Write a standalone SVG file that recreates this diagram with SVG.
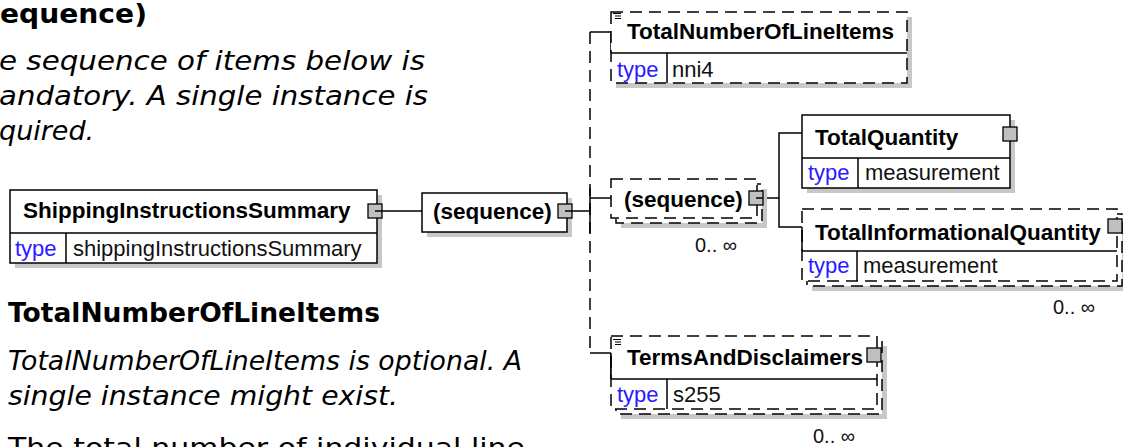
<svg xmlns="http://www.w3.org/2000/svg" width="1123" height="447" viewBox="0 0 1123 447">
<style>
.bg{fill:#fff}
.box{fill:#fff;stroke:#000;stroke-width:1.5}
.dash{stroke-dasharray:12 7}
.sh{fill:#c8c8c8}
.ln{stroke:#000;stroke-width:1.5;fill:none}
.sq{fill:#c0c0c0;stroke:#000;stroke-width:1.3}
.t{font-family:"Liberation Sans",Arial,sans-serif;font-size:22px;fill:#111}
.tb{font-family:"Liberation Sans",Arial,sans-serif;font-size:22.5px;font-weight:bold;fill:#000}
.ty{fill:#2a1aff}
.m{font-family:"Liberation Sans",Arial,sans-serif;font-size:20px;fill:#111}
.body{font-family:"DejaVu Sans",Verdana,sans-serif;font-size:27px;fill:#000}
.bb{font-weight:bold}
.it{font-style:italic}
.doc{stroke:#000;stroke-width:1.2}
</style>
<rect class="bg" x="0" y="0" width="1123" height="447"/>
<g id="text">
<text class="body bb" x="0" y="23" textLength="147" lengthAdjust="spacingAndGlyphs">equence)</text>
<text class="body it" x="-1" y="70" textLength="426" lengthAdjust="spacingAndGlyphs">e sequence of items below is</text>
<text class="body it" x="-1" y="105" textLength="429" lengthAdjust="spacingAndGlyphs">andatory. A single instance is</text>
<text class="body it" x="-1" y="140">quired.</text>
<text class="body bb" x="8" y="322" textLength="372" lengthAdjust="spacingAndGlyphs">TotalNumberOfLineItems</text>
<text class="body it" x="8" y="370" textLength="514" lengthAdjust="spacingAndGlyphs">TotalNumberOfLineItems is optional. A</text>
<text class="body it" x="8" y="405" textLength="390" lengthAdjust="spacingAndGlyphs">single instance might exist.</text>
<text class="body" x="8" y="457" textLength="517" lengthAdjust="spacingAndGlyphs">The total number of individual line</text>
</g>
<g id="connectors">
<path class="ln" d="M375,211 H422"/>
<path class="ln" d="M565,211 H590"/>
<path class="ln dash" d="M590,32 V353"/>
<path class="ln" d="M590,188 V233"/>
<path class="ln" d="M590,32 H611 V53"/>
<path class="ln" d="M590,198 H611"/>
<path class="ln" d="M590,353 H611 V379"/>
<path class="ln" d="M756,198 H779"/>
<path class="ln" d="M802,133 H779 V227 H802"/>
</g>
<g id="ShippingInstructionsSummary">
<rect class="sh" x="15" y="195" width="367" height="73"/>
<rect class="box" x="10" y="190" width="367" height="73"/>
<path class="ln" d="M10,233 H377 M66,233 V263"/>
<rect class="sq" x="368" y="204" width="14" height="14"/>
<path class="ln" d="M375,211 H382"/>
<text class="tb" x="23" y="218">ShippingInstructionsSummary</text>
<text class="t ty" x="15" y="256">type</text>
<text class="t" x="73" y="256">shippingInstructionsSummary</text>
</g>
<g id="sequence">
<rect class="sh" x="427" y="198" width="145" height="39"/>
<rect class="box" x="422" y="193" width="145" height="39"/>
<rect class="sq" x="558" y="204" width="14" height="14"/>
<path class="ln" d="M565,211 H572"/>
<text class="tb" x="433" y="219">(sequence)</text>
</g>
<g id="TotalNumberOfLineItems">
<rect class="sh" x="616" y="17" width="296" height="71"/>
<rect class="box dash" x="611" y="12" width="296" height="71"/>
<path class="ln" d="M611,53 H907 M667,53 V83"/>
<path class="doc" d="M613,13.5 H621 M615,16 H621 M615,18.5 H621"/>
<text class="tb" x="627" y="39">TotalNumberOfLineItems</text>
<text class="t ty" x="617" y="77">type</text>
<text class="t" x="672" y="77">nni4</text>
</g>
<g id="sequence2">
<rect class="sh" x="621" y="189" width="146" height="39"/>
<rect class="box dash" x="616" y="184" width="146" height="39"/>
<rect class="box dash" x="611" y="179" width="146" height="39"/>
<rect class="sq" x="749" y="191" width="14" height="14"/>
<path class="ln" d="M756,198 H763"/>
<text class="tb" x="624" y="207">(sequence)</text>
<text class="m" x="695" y="252">0.. ∞</text>
</g>
<g id="TotalQuantity">
<rect class="sh" x="807" y="120" width="208" height="73"/>
<rect class="box" x="802" y="115" width="208" height="73"/>
<path class="ln" d="M802,158 H1010 M858,158 V188"/>
<rect class="sq" x="1003" y="127" width="14" height="14"/>
<text class="tb" x="815" y="145">TotalQuantity</text>
<text class="t ty" x="808" y="180">type</text>
<text class="t" x="865" y="180">measurement</text>
</g>
<g id="TotalInformationalQuantity">
<rect class="sh" x="812" y="219" width="315" height="72"/>
<rect class="box dash" x="807" y="214" width="315" height="72"/>
<rect class="box dash" x="802" y="209" width="315" height="72"/>
<path class="ln" d="M802,251 H1117 M857,251 V281 M802,227 V251"/>
<rect class="sq" x="1108" y="219" width="14" height="14"/>
<text class="tb" x="815" y="240">TotalInformationalQuantity</text>
<text class="t ty" x="808" y="273">type</text>
<text class="t" x="863" y="273">measurement</text>
<text class="m" x="1053" y="314">0.. ∞</text>
</g>
<g id="TermsAndDisclaimers">
<rect class="sh" x="621" y="346" width="266" height="73"/>
<rect class="box dash" x="616" y="341" width="266" height="73"/>
<rect class="box dash" x="611" y="336" width="266" height="73"/>
<path class="ln" d="M611,379 H877 M667,379 V409 M611,353 V379"/>
<path class="doc" d="M613,339.5 H621 M615,342 H621 M615,344.5 H621"/>
<rect class="sq" x="867" y="348" width="14" height="14"/>
<text class="tb" x="627" y="365">TermsAndDisclaimers</text>
<text class="t ty" x="617" y="402">type</text>
<text class="t" x="673" y="402">s255</text>
<text class="m" x="813" y="443">0.. ∞</text>
</g>
</svg>
